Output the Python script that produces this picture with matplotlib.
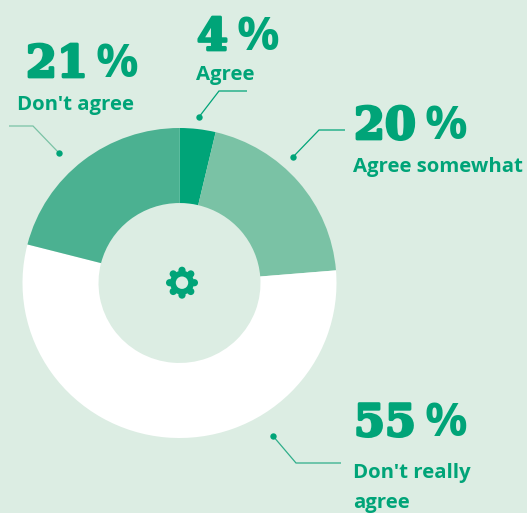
import numpy as np
import matplotlib
matplotlib.use("Agg")
import matplotlib.pyplot as plt
from matplotlib.patches import Circle
from matplotlib.transforms import Affine2D
import matplotlib.patheffects as pe

categories = ["Agree", "Agree somewhat", "Don't really\nagree", "Don't agree"]
values = [4, 20, 55, 21]
slice_shares = [3.7, 20.0, 55.3, 21.0]
colors = ["#00A478", "#7AC2A5", "#FFFFFF", "#4BB191"]
BG = "#DCEDE3"
INK = "#00A478"

fig = plt.figure(figsize=(5.27, 5.13), dpi=100, facecolor=BG)
ax = fig.add_axes([0, 0, 1, 1])
ax.set_xlim(0, 527)
ax.set_ylim(513, 0)
ax.axis("off")

cx, cy, R, r = 179.5, 283, 157, 81
wedges, _ = ax.pie(slice_shares, colors=colors, center=(cx, cy), radius=R,
                   startangle=-90, counterclock=True, frame=False,
                   wedgeprops=dict(width=R - r, linewidth=0))
ax.set_xlim(0, 527)
ax.set_ylim(513, 0)
ax.set_aspect("auto")
squash = Affine2D().translate(-cx, -cy).scale(1, 155 / 157).translate(cx, cy) + ax.transData
for w in wedges:
    w.set_transform(squash)

# number x, number baseline, label baseline, label x
placement = [
    (197, 50, 80, 196),
    (354, 139, 172, 353),
    (354, 436, 478, 353),
    (26, 77, 110, 17),
]
for val, cat, (x, yn, yl, lx) in zip(values, categories, placement):
    t = ax.text(x, yn, f"{val}", fontfamily="DejaVu Serif", fontweight="bold",
                fontsize=32, color=INK, ha="left", va="baseline",
                path_effects=[pe.withStroke(linewidth=2.0, foreground=INK)])
    fig.canvas.draw()
    bb = t.get_window_extent().transformed(ax.transData.inverted())
    ax.text(bb.x1 + 8, yn, "%", fontfamily="Open Sans", fontweight="bold",
            fontsize=34, color=INK, ha="left", va="baseline")
    for i, line in enumerate(cat.split("\n")):
        ax.text(lx, yl + i * 30, line, fontfamily="Open Sans", fontweight="bold",
                fontsize=14.7, color=INK, ha="left", va="baseline")

# leader lines
leaders = [
    ([199, 219, 247], [117, 91, 91], "#00A478"),
    ([293, 319, 345], [157, 130, 130], "#00A478"),
    ([273, 296, 341], [436, 463, 463], "#2FAE8A"),
    ([59, 33, 9], [153, 126, 126], "#7AC2A5"),
]
for xs, ys, c in leaders:
    ax.plot(xs, ys, color=c, lw=0.9, solid_capstyle="butt", solid_joinstyle="miter")
    ax.plot(xs[0], ys[0], "o", ms=4.6, color=INK, mew=0)

# gear icon
gx, gy = 182, 282.7
ax.add_patch(Circle((gx, gy), 12, fc=INK, ec="none"))
for k in range(8):
    a = np.deg2rad(k * 45)
    ax.add_patch(Circle((gx + 12.4 * np.cos(a), gy + 12.4 * np.sin(a)), 3.6, fc=INK, ec="none"))
ax.add_patch(Circle((gx, gy), 6.2, fc=BG, ec="none"))

fig.savefig("out.png", dpi=100, facecolor=BG)
